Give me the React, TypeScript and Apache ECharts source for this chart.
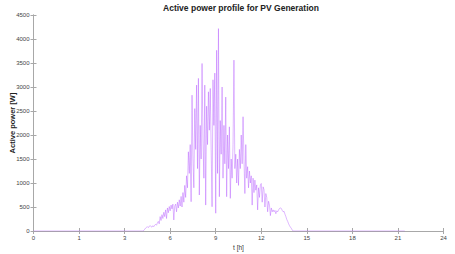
import React, { useEffect, useRef } from "react";
import * as echarts from "echarts";

const title = "Active power profile for PV Generation";
const xTickLabels = ["0", "1", "3", "6", "9", "12", "15", "18", "21", "24"];
const yTicks = [0, 500, 1000, 1500, 2000, 2500, 3000, 3500, 4000, 4500];

// sampled profile (position on tick scale, start + step)
const profileStart = 2.4;
const profileStep = 0.02;
const powerValues = [
  0, 10, 35, 60, 75, 90, 70, 100, 110, 95,
  80, 110, 90, 120, 140, 120, 170, 200, 150, 300,
  220, 340, 260, 390, 300, 440, 260, 480, 380, 510,
  420, 540, 460, 560, 230, 520, 560, 400, 600, 480,
  650, 520, 720, 500, 800, 600, 950, 700, 1150, 900,
  1650, 1200, 1800, 610, 2830, 1500, 900, 2550, 1700, 3040,
  1300, 3180, 750, 2200, 1500, 3490, 1900, 1100, 3040, 540,
  2600, 1800, 2900, 2100, 2970, 1700, 505, 3150, 2200, 3290,
  370, 3765, 1200, 4216, 714, 2300, 1600, 3000, 1100, 2200,
  1400, 2790, 714, 2000, 1300, 2170, 680, 1500, 1100, 1800,
  3560, 1300, 1600, 1000, 1500, 950, 1700, 1300, 2000, 1400,
  2380, 1500, 780, 1800, 1100, 1340, 900, 1250, 1000, 1150,
  540, 1100, 800, 1060, 850, 960, 440, 900, 700, 960,
  990, 600, 920, 860, 500, 780, 700, 400, 620, 540,
  320, 480, 400, 440, 400, 430, 360, 420, 400, 440,
  470, 480, 470, 430, 400, 410, 350, 300, 240, 200,
  150, 110, 80, 55, 20, 0,
];
const zeroStart = 0;
const zeroEnd = 8.15;

export default function App() {
  const ref = useRef<HTMLDivElement>(null);
  useEffect(() => {
    if (!ref.current) return;
    const chart = echarts.init(ref.current, undefined, { renderer: "svg" });
    const data: [number, number][] = [[zeroStart, 0]];
    powerValues.forEach((v, i) => {
      data.push([+(profileStart + i * profileStep).toFixed(4), v]);
    });
    data.push([zeroEnd, 0]);

    const axisColor = "#a8a8a8";
    const font = "Liberation Sans, Arial, sans-serif";
    const labelStyle = { color: "#444", fontSize: 6, fontFamily: font };
    chart.setOption({
      animation: false,
      backgroundColor: "#ffffff",
      title: {
        text: title,
        left: 236,
        textAlign: "center",
        top: -2,
        textStyle: { fontSize: 8.5, fontWeight: "bold", color: "#222", fontFamily: font },
      },
      grid: { left: 33.5, right: 11.5, top: 15, bottom: 23, containLabel: false, outerBoundsMode: "none" },
      xAxis: [
        {
          type: "value",
          min: 0,
          max: 9,
          interval: 1,
          name: "t [h]",
          nameLocation: "middle",
          nameGap: 13,
          nameMoveOverlap: false,
          nameTextStyle: { ...labelStyle, fontSize: 6.5, color: "#333" },
          axisLine: { show: true, lineStyle: { color: axisColor, width: 1 } },
          axisTick: { show: true, inside: true, length: 3, lineStyle: { color: axisColor } },
          axisLabel: { ...labelStyle, margin: 4, formatter: (v: number) => xTickLabels[Math.round(v)] ?? "" },
          splitLine: { show: false },
        },
        {
          type: "value",
          position: "top",
          min: 0,
          max: 9,
          interval: 1,
          axisLine: { show: true, lineStyle: { color: axisColor, width: 1 } },
          axisTick: { show: true, inside: true, length: 3, lineStyle: { color: axisColor } },
          axisLabel: { show: false },
          splitLine: { show: false },
        },
      ],
      yAxis: [
        {
          type: "value",
          min: yTicks[0],
          max: yTicks[yTicks.length - 1],
          interval: 500,
          name: "Active power [W]",
          nameLocation: "middle",
          nameGap: 17,
          nameMoveOverlap: false,
          nameTextStyle: { fontSize: 7.5, fontWeight: "bold", color: "#222", fontFamily: font },
          axisLine: { show: true, lineStyle: { color: axisColor, width: 1 } },
          axisTick: { show: true, inside: true, length: 3, lineStyle: { color: axisColor } },
          axisLabel: { ...labelStyle, margin: 4, formatter: (v: number) => String(v) },
          splitLine: { show: false },
        },
        {
          type: "value",
          position: "right",
          min: 0,
          max: 4500,
          interval: 500,
          axisLine: { show: true, lineStyle: { color: axisColor, width: 1 } },
          axisTick: { show: true, inside: true, length: 3, lineStyle: { color: axisColor } },
          axisLabel: { show: false },
          splitLine: { show: false },
        },
      ],
      series: [
        {
          type: "line",
          xAxisIndex: 0,
          yAxisIndex: 0,
          data,
          showSymbol: false,
          symbol: "none",
          lineStyle: { color: "rgba(175, 80, 255, 0.45)", width: 0.9 },
          z: 3,
        },
      ],
    });
    return () => chart.dispose();
  }, []);
  return <div ref={ref} style={{ position: "fixed", left: 0, top: 0, width: 455, height: 254 }} />;
}
